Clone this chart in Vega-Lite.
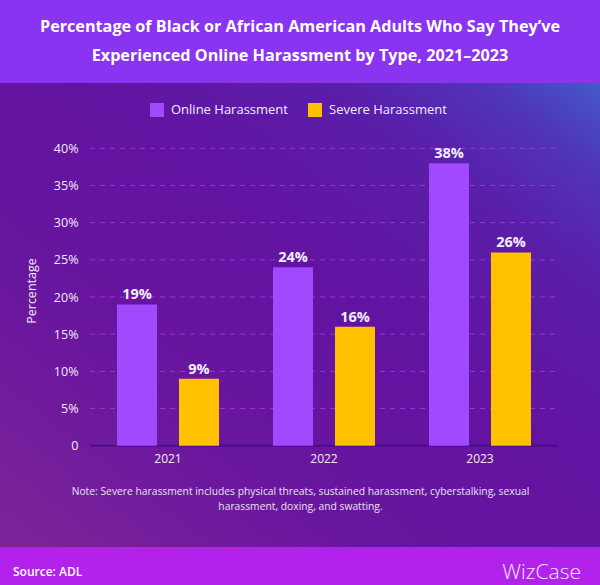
{
  "$schema": "https://vega.github.io/schema/vega-lite/v6.json",
  "background": "#6414a0",
  "padding": 0,
  "spacing": 0,
  "config": {"view": {"stroke": null}, "font": "Open Sans"},
  "title": {"text": "WizCase", "orient": "bottom", "anchor": "end", "offset": -6, "dx": -19, "baseline": "alphabetic", "fontSize": 21, "fontWeight": 300, "color": "#f4eafc"},
  "vconcat": [
    {
      "width": 600,
      "height": 83,
      "view": {"fill": "#8934f0", "stroke": null},
      "data": {"values": [{"t": "Percentage of Black or African American Adults Who Say They’ve\nExperienced Online Harassment by Type, 2021–2023"}]},
      "mark": {"type": "text", "lineBreak": "\n", "fontSize": 16.2, "fontWeight": "bold", "color": "#ffffff", "lineHeight": 29, "baseline": "middle", "align": "center", "dy": -14.5},
      "encoding": {"text": {"field": "t"}}
    },
    {
      "width": 600,
      "height": 464,
      "view": {"stroke": null, "fill": {"gradient": "linear", "x1": 0, "y1": 1, "x2": 1, "y2": 0, "stops": [{"offset": 0, "color": "#7b2498"}, {"offset": 0.3, "color": "#69169f"}, {"offset": 0.55, "color": "#6213a0"}, {"offset": 0.78, "color": "#5a1ea9"}, {"offset": 0.9, "color": "#5034b8"}, {"offset": 1, "color": "#4459c8"}]}},
      "data": {"values": [
        {"year": "2021", "type": "Online Harassment", "value": 0.19},
        {"year": "2021", "type": "Severe Harassment", "value": 0.09},
        {"year": "2022", "type": "Online Harassment", "value": 0.24},
        {"year": "2022", "type": "Severe Harassment", "value": 0.16},
        {"year": "2023", "type": "Online Harassment", "value": 0.38},
        {"year": "2023", "type": "Severe Harassment", "value": 0.26}
      ]},
      "layer": [
        {
          "data": {"values": [{"v": 0.05}, {"v": 0.1}, {"v": 0.15}, {"v": 0.2}, {"v": 0.25}, {"v": 0.3}, {"v": 0.35}, {"v": 0.4}]},
          "mark": {"type": "rule", "color": "#9b34d6", "strokeWidth": 1, "strokeDash": [5, 5]},
          "encoding": {
            "x": {"datum": "2021", "type": "nominal", "bandPosition": 0, "scale": {"type": "band", "domain": ["2021", "2022", "2023"], "paddingInner": 0, "paddingOuter": 0.4231, "align": 0.6818}},
            "x2": {"datum": "2023", "bandPosition": 1},
            "y": {"field": "v", "type": "quantitative", "scale": {"domain": [-0.13625, 0.48783], "nice": false, "zero": false}}
          }
        },
        {
          "data": {"values": [{"v": 0}]},
          "mark": {"type": "rule", "color": "#4a0b8c", "strokeWidth": 2},
          "encoding": {
            "x": {"datum": "2021", "type": "nominal", "bandPosition": 0, "scale": {"type": "band", "domain": ["2021", "2022", "2023"], "paddingInner": 0, "paddingOuter": 0.4231, "align": 0.6818}},
            "x2": {"datum": "2023", "bandPosition": 1},
            "y": {"field": "v", "type": "quantitative", "scale": {"domain": [-0.13625, 0.48783], "nice": false, "zero": false}}
          }
        },
        {
          "mark": {"type": "bar"},
          "encoding": {
            "x": {"field": "year", "type": "nominal", "scale": {"type": "band", "domain": ["2021", "2022", "2023"], "paddingInner": 0, "paddingOuter": 0.4231, "align": 0.6818},
              "axis": {"orient": "bottom", "offset": -101.3, "domain": false, "ticks": false, "grid": false, "labelPadding": 8, "labelAlign": "center", "labelBaseline": "top", "labelFontSize": 12, "labelColor": "#f2ecf9", "labelAngle": 0,
                "title": ["Note: Severe harassment includes physical threats, sustained harassment, cyberstalking, sexual", "harassment, doxing, and swatting."],
                "titleFontSize": 10.3, "titleFontWeight": "normal", "titleColor": "#e9e0f3", "titlePadding": 22, "titleLineHeight": 15}},
            "xOffset": {"field": "type", "type": "nominal", "scale": {"paddingInner": 0.3548, "paddingOuter": 0.4354}},
            "y": {"field": "value", "type": "quantitative", "scale": {"domain": [-0.13625, 0.48783], "nice": false, "zero": false},
              "axis": {"orient": "left", "offset": -88, "values": [0, 0.05, 0.1, 0.15, 0.2, 0.25, 0.3, 0.35, 0.4], "domain": false, "ticks": false, "grid": false, "labelPadding": 10, "labelFontSize": 12.5, "labelColor": "#f2ecf9",
                "labelExpr": "datum.value === 0 ? '0' : format(datum.value, '.0%')",
                "title": "Percentage", "titleFontSize": 12.5, "titleFontWeight": "normal", "titleColor": "#f2ecf9", "titlePadding": 15, "titleY": 207.5}},
            "color": {"field": "type", "type": "nominal", "scale": {"domain": ["Online Harassment", "Severe Harassment"], "range": ["#a049ff", "#ffc000"]},
              "legend": {"title": null, "orient": "none", "legendX": 150, "legendY": 103, "direction": "horizontal", "symbolType": "square", "symbolSize": 196, "symbolStrokeWidth": 0, "symbolOpacity": 1, "labelFontSize": 13, "labelColor": "#f2ecf9", "labelOffset": 7, "columnPadding": 20, "padding": 0}}
          }
        },
        {
          "mark": {"type": "text", "baseline": "alphabetic", "dy": -5, "fontSize": 14.5, "fontWeight": "bold", "color": "#f3edfa"},
          "encoding": {
            "x": {"field": "year", "type": "nominal"},
            "xOffset": {"field": "type", "type": "nominal"},
            "y": {"field": "value", "type": "quantitative"},
            "text": {"field": "value", "format": ".0%"}
          }
        }
      ]
    },
    {
      "width": 600,
      "height": 38,
      "view": {"fill": "#b222ea", "stroke": null},
      "title": {"text": "Source: ADL", "orient": "top", "anchor": "start", "frame": "group", "offset": -41, "dx": 13, "baseline": "alphabetic", "fontSize": 12, "fontWeight": 600, "color": "#ffffff"},
      "data": {"values": []},
      "mark": "text",
      "encoding": {}
    }
  ]
}
